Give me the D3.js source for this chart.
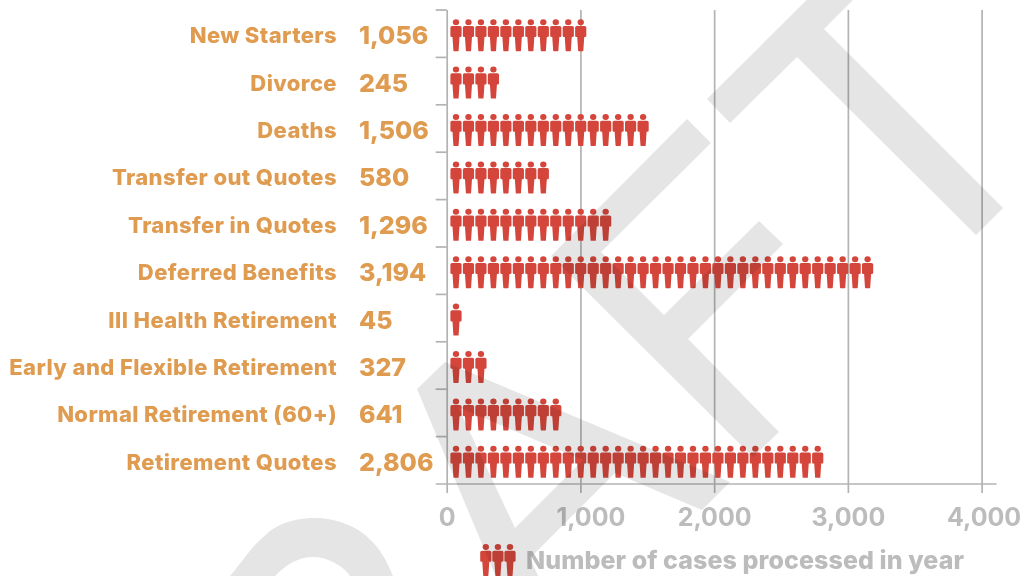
<!DOCTYPE html>
<html><head><meta charset="utf-8">
<script src="https://cdn.jsdelivr.net/npm/d3@7"></script>
<style>
html,body{margin:0;padding:0;background:#fff;overflow:hidden}
svg{display:block;background:#fff;font-family:Inter,"Open Sans",sans-serif;font-weight:700}
</style></head><body><div id="chart"></div>
<script>
const categories = ["New Starters","Divorce","Deaths","Transfer out Quotes","Transfer in Quotes","Deferred Benefits","Ill Health Retirement","Early and Flexible Retirement","Normal Retirement (60+)","Retirement Quotes"];
const caseValues = [1056,245,1506,580,1296,3194,45,327,641,2806];
const figureCounts = [11,4,16,8,13,34,1,3,9,30];
const xTickValues = [0,1000,2000,3000,4000];
const legendLabel = "Number of cases processed in year";
const legendFigures = [0,1,2];
const wmT = [[707,99],[730,123],[797,57],[976,235],[1003,208],[824,29],[880,-27],[857,-50]];
const wmF = [[551,256],[687,119],[711,143],[601,252],[664,315],[759,221],[783,244],[688,339],[779,432],[753,457]];
const wmA = [[417,389],[445,362],[730,482],[702,510],[615,473],[530,558],[558,620],[514,620]];
const wmAHole = [[458,407],[515,528],[583,460]];
const wmROuter = [[205,602],[230,576],[257,543],[280,525],[317,518],[353,527],[377,547],[393,576],[400,600]];
const wmRInner = [[355,600],[350,576],[333,562],[313,557],[293,562],[275,576],[250,602]];

const W=1027,H=576;
const svg=d3.select("#chart").append("svg").attr("width",W).attr("height",H);
const x=d3.scaleLinear().domain([0,4000]).range([446.7,981.6]);
const y=d3.scaleBand().domain(categories).range([10,484]);
const iconX=d3.scaleLinear().domain([0,33]).range([456,867.6]);
const grey="#b3b3b3", orange="#df9b4f", tickText="#bcbcbc", red="#d4463b";

// x axis + grid
const gx=svg.append("g").attr("transform","translate(0,484)")
 .call(d3.axisBottom(x).tickValues(xTickValues).tickSize(0).tickFormat(d3.format(",")))
 .attr("font-family",null).attr("font-size",null);
gx.select(".domain").remove();
gx.selectAll("text").attr("y",33).attr("dy","0.36em").attr("dx",d=>d===1000?10:(d===4000?2:0)).attr("fill",tickText).style("font-size","25px");
gx.selectAll("line").remove();
gx.selectAll(".tick").append("line").attr("y1",-474).attr("y2",9).attr("stroke",grey).attr("stroke-width",1.7);
// baseline
svg.append("line").attr("x1",x(0)-11).attr("x2",x(4000)+15).attr("y1",484).attr("y2",484).attr("stroke",grey).attr("stroke-width",1.7);
// y ticks at band boundaries
const boundaries=categories.map(c=>y(c));
svg.selectAll(".yt").data(boundaries).join("line").attr("class","yt")
 .attr("x1",x(0)-11).attr("x2",x(0)).attr("y1",d=>d).attr("y2",d=>d).attr("stroke",grey).attr("stroke-width",1.7);

const mid=c=>y(c)+y.bandwidth()/2;
svg.selectAll(".cat").data(categories).join("text").attr("class","cat")
 .attr("x",337).attr("y",c=>mid(c)+1.5).attr("dy","0.36em").attr("text-anchor","end")
 .attr("fill",orange).style("font-size","22px").style("letter-spacing","0.4px").style("font-weight",800).text(c=>c);
svg.selectAll(".val").data(categories).join("text").attr("class","val")
 .attr("x",359).attr("y",c=>mid(c)+1.5).attr("dy","0.36em")
 .attr("fill",orange).style("font-size","25px").style("font-weight",800).text((c,i)=>d3.format(",")(caseValues[i]));

const figurePath="M-3.9,6.7 L3.9,6.7 Q5.6,6.7 5.6,8.3 L5.6,16.6 Q5.6,17.8 4.3,17.8 L3.5,17.8 L2.6,31.6 Q2.5,32 2,32 L-2,32 Q-2.5,32 -2.6,31.6 L-3.5,17.8 L-4.3,17.8 Q-5.6,17.8 -5.6,16.6 L-5.6,8.3 Q-5.6,6.7 -3.9,6.7 Z M3.2,3 A3.2,3 0 1 1 -3.2,3 A3.2,3 0 1 1 3.2,3 Z";
categories.forEach((c,k)=>{
 svg.append("g").selectAll("path").data(d3.range(figureCounts[k])).join("path")
  .attr("d",figurePath).attr("fill",red)
  .attr("transform",i=>`translate(${iconX(i)},${mid(c)+1.5-16})`);
});
// legend
const legendX=d3.scaleLinear().domain([0,2]).range([485.8,510]);
svg.append("g").selectAll("path").data(legendFigures).join("path")
 .attr("d",figurePath).attr("fill",red).attr("transform",i=>`translate(${legendX(i)},544)`);
svg.append("text").attr("x",526).attr("y",560).attr("dy","0.36em").attr("fill",tickText)
 .style("font-size","25px").style("letter-spacing","0.08px").style("font-weight",800).text(legendLabel);

// watermark
const line=d3.line();
const rOuter=d3.line().curve(d3.curveCatmullRom)(wmROuter);
const rInner=d3.line().curve(d3.curveCatmullRom)(wmRInner);
const wm=svg.append("g").style("mix-blend-mode","multiply").attr("fill","#e5e5e5");
[wmT,wmF].forEach(p=>wm.append("path").attr("d",line(p)+"Z"));
wm.append("path").attr("fill-rule","evenodd").attr("d",line(wmA)+"Z"+line(wmAHole)+"Z");
wm.append("path").attr("d",rOuter+"L"+rInner.slice(1)+"Z");
</script></body></html>
